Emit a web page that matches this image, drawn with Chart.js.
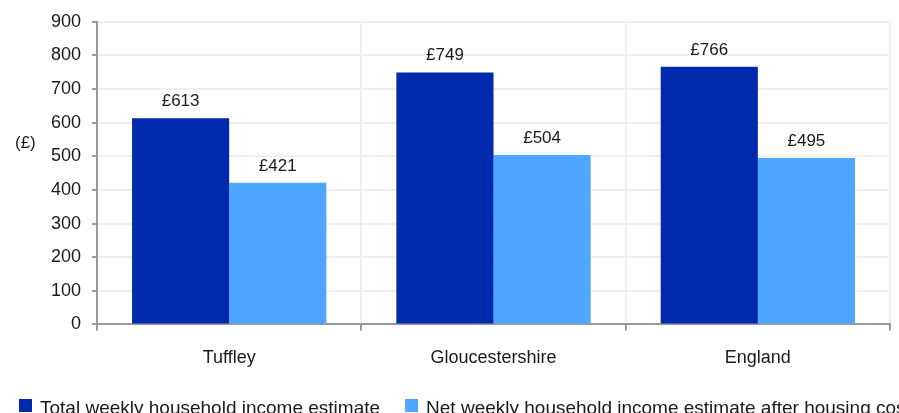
<!DOCTYPE html>
<html>
<head>
<meta charset="utf-8">
<script src="https://cdn.jsdelivr.net/npm/chart.js@4.4.1/dist/chart.umd.min.js"></script>
<style>
  html, body { margin: 0; padding: 0; background: #fff; overflow: hidden; }
  #wrap { position: relative; width: 899px; height: 413px; }
</style>
</head>
<body>
<div id="wrap"><canvas id="IncomeChart"></canvas></div>
<script>
const categories = ['Tuffley', 'Gloucestershire', 'England'];
const totalIncome = [613, 749, 766];
const netIncome = [421, 504, 495];
const seriesNames = [
  'Total weekly household income estimate',
  'Net weekly household income estimate after housing costs'
];
const yTicks = [0, 100, 200, 300, 400, 500, 600, 700, 800, 900];

const FONT = '"Liberation Sans", Arial, sans-serif';
const TEXT = '#1a1a1a';

// £ labels on top of every bar
const valueLabels = {
  id: 'valueLabels',
  afterDatasetsDraw(chart) {
    const ctx = chart.ctx;
    ctx.save();
    ctx.font = '17px ' + FONT;
    ctx.fillStyle = TEXT;
    ctx.textAlign = 'center';
    ctx.textBaseline = 'middle';
    chart.data.datasets.forEach((ds, i) => {
      chart.getDatasetMeta(i).data.forEach((bar, j) => {
        ctx.fillText('£' + ds.data[j], bar.x, bar.y - 17);
      });
    });
    ctx.restore();
  }
};

// "(£)" unit label and the legend row at the bottom (runs off the page edge like the original)
const extras = {
  id: 'extras',
  afterDraw(chart) {
    const ctx = chart.ctx;
    ctx.save();
    ctx.fillStyle = TEXT;
    ctx.font = '17px ' + FONT;
    ctx.textAlign = 'left';
    ctx.textBaseline = 'middle';
    ctx.fillText('(£)', 15, 143);

    ctx.font = '19px ' + FONT;
    let x = 19;
    chart.data.datasets.forEach(ds => {
      ctx.fillStyle = ds.backgroundColor;
      ctx.fillRect(x, 399, 13, 13);
      ctx.fillStyle = TEXT;
      ctx.fillText(ds.label, x + 21, 409);
      x += 21 + ctx.measureText(ds.label).width + 25;
    });
    ctx.restore();
  }
};

const data = {
  labels: categories,
  datasets: [
    { label: seriesNames[0], data: totalIncome, backgroundColor: '#002AAE' },
    { label: seriesNames[1], data: netIncome, backgroundColor: '#4DA6FF' }
  ]
};

const config = {
  type: 'bar',
  data: data,
  options: {
    responsive: true,
    maintainAspectRatio: false,
    animation: false,
    categoryPercentage: 0.735,
    barPercentage: 1.0,
    layout: { padding: { left: 40, right: 9, top: 21, bottom: 27 } },
    plugins: {
      legend: { display: false },
      tooltip: { enabled: false }
    },
    scales: {
      x: {
        grid: { color: '#efefef', lineWidth: 2, tickColor: '#999999', tickLength: 6, offset: true },
        border: { color: '#999999', width: 2 },
        ticks: { color: TEXT, font: { family: FONT, size: 18 }, padding: 17 }
      },
      y: {
        min: 0,
        max: 900,
        afterBuildTicks: axis => { axis.ticks = yTicks.map(v => ({ value: v })); },
        grid: { color: '#f0f0f0', lineWidth: 2, tickColor: '#999999', tickLength: 5 },
        border: { color: '#999999', width: 2 },
        ticks: { color: TEXT, font: { family: FONT, size: 18 }, padding: 11 }
      }
    }
  },
  plugins: [valueLabels, extras]
};

new Chart(document.getElementById('IncomeChart'), config);
</script>
</body>
</html>
